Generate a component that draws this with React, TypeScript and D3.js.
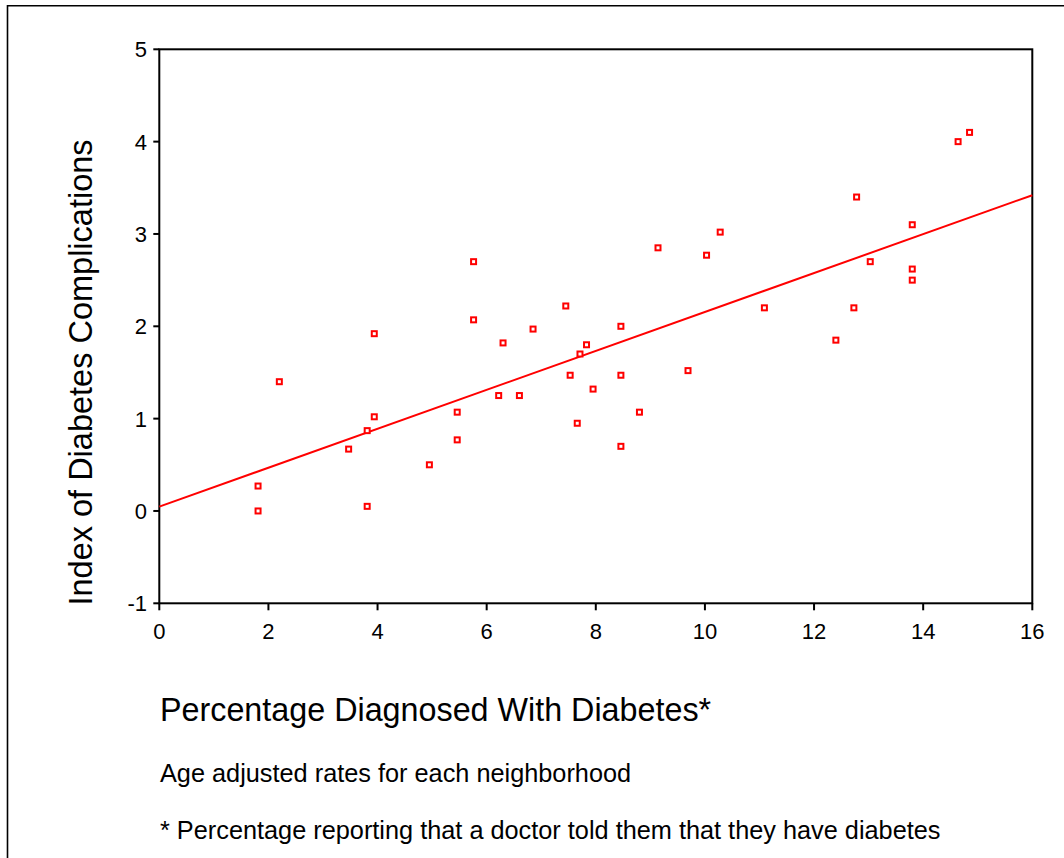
import React from "react";
import * as d3 from "d3";

const pctDiagnosed = [1.81, 1.81, 2.2, 3.47, 3.81, 3.81, 3.94, 3.94, 4.95, 5.46, 5.46, 5.76, 5.76, 6.22, 6.3, 6.6, 6.85, 7.45, 7.53, 7.66, 7.71, 7.83, 7.95, 8.46, 8.46, 8.46, 8.8, 9.14, 9.69, 10.03, 10.28, 11.09, 12.4, 12.73, 12.78, 13.03, 13.8, 13.8, 13.8, 14.64, 14.85];
const complicationIndex = [0.27, 0.0, 1.4, 0.67, 0.87, 0.05, 1.02, 1.92, 0.5, 1.07, 0.77, 2.07, 2.7, 1.25, 1.82, 1.25, 1.97, 2.22, 1.47, 0.95, 1.7, 1.8, 1.32, 2.0, 1.47, 0.7, 1.07, 2.85, 1.52, 2.77, 3.02, 2.2, 1.85, 2.2, 3.4, 2.7, 3.1, 2.62, 2.5, 4.0, 4.1];
const fitLineX = [0, 16];
const fitLineY = [0.047, 3.42];
const xTicks = [0, 2, 4, 6, 8, 10, 12, 14, 16];
const yTicks = [-1, 0, 1, 2, 3, 4, 5];

const W = 1064;
const H = 858;
const FONT = "Arial, 'Liberation Sans', sans-serif";

export default function App() {
  const left = 159.3, right = 1032.3, top = 49.3, bottom = 603.3;
  const x = d3.scaleLinear().domain([0, 16]).range([left, right]);
  const y = d3.scaleLinear().domain([-1, 5]).range([bottom, top]);
  const line = d3
    .line<number>()
    .x((d) => x(fitLineX[d]))
    .y((d) => y(fitLineY[d]));

  return (
    <svg width={W} height={H} style={{ position: "absolute", left: 0, top: 0 }} fontFamily={FONT}>
      <rect x={0} y={0} width={W} height={H} fill="#fff" />
      <path d={`M7.5,${H} L7.5,5.7 L${W},5.7`} fill="none" stroke="#000" strokeWidth={1.6} />
      <rect x={left} y={top} width={right - left} height={bottom - top} fill="none" stroke="#000" strokeWidth={2} />
      {yTicks.map((t) => (
        <g key={"y" + t}>
          <line x1={left - 6} x2={left} y1={y(t)} y2={y(t)} stroke="#000" strokeWidth={2} />
          <text x={147} y={y(t)} dy="0.36em" textAnchor="end" fontSize={22}>
            {t}
          </text>
        </g>
      ))}
      {xTicks.map((t) => (
        <g key={"x" + t}>
          <line x1={x(t)} x2={x(t)} y1={bottom} y2={bottom + 7} stroke="#000" strokeWidth={2} />
          <text x={x(t)} y={638.5} textAnchor="middle" fontSize={22}>
            {t}
          </text>
        </g>
      ))}
      <path d={line([0, 1]) || ""} fill="none" stroke="#ff0000" strokeWidth={2} />
      {pctDiagnosed.map((v, i) => (
        <rect
          key={i}
          x={x(v) - 2.5}
          y={y(complicationIndex[i]) - 2.5}
          width={5}
          height={5}
          fill="#fff"
          stroke="#ff0000"
          strokeWidth={2}
        />
      ))}
      <text transform={`translate(92,372.5) rotate(-90)`} textAnchor="middle" fontSize={32.5}>
        Index of Diabetes Complications
      </text>
      <text x={160} y={720.5} fontSize={32.3}>
        Percentage Diagnosed With Diabetes*
      </text>
      <text x={160} y={782} fontSize={25.3}>
        Age adjusted rates for each neighborhood
      </text>
      <text x={160} y={839} fontSize={25.3}>
        * Percentage reporting that a doctor told them that they have diabetes
      </text>
    </svg>
  );
}
